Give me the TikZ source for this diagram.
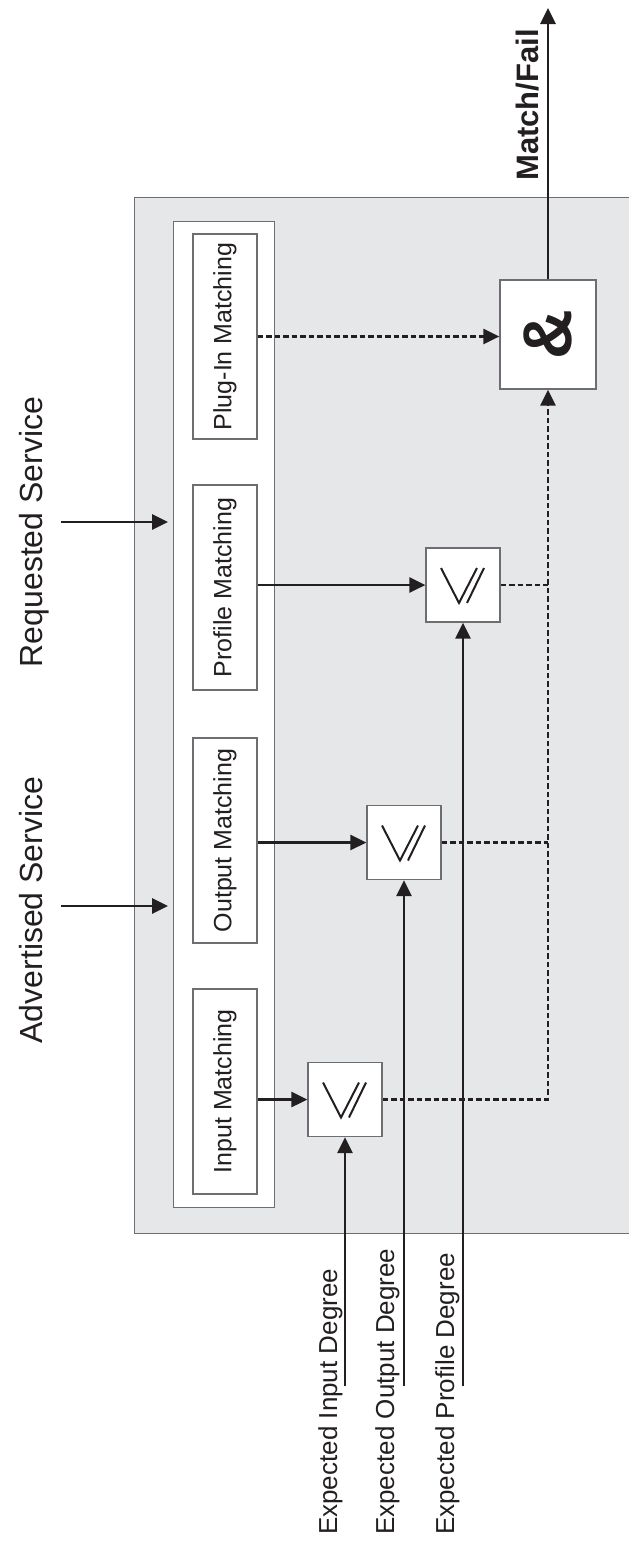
\documentclass[tikz,border=0pt]{standalone}
\usepackage{fontspec}
\setmainfont{Liberation Sans}
\usetikzlibrary{arrows.meta}
\definecolor{bg}{HTML}{E6E7E8}
\definecolor{frame}{HTML}{6D6E71}
\definecolor{ink}{HTML}{231F20}
\begin{document}
\begin{tikzpicture}[x=1pt,y=-1pt,
  box/.style={draw=frame,line width=1.2pt,fill=white,inner sep=0pt,text=ink},
  mbox/.style={box,rotate=90,minimum width=205pt,minimum height=64pt,font=\fontsize{25}{30}\selectfont},
  gbox/.style={box,minimum width=74pt,minimum height=74pt},
  conn/.style={draw=ink,line width=2.8pt},
  tip/.style={-{Triangle[length=16pt,width=15pt]}},
  arr/.style={conn,tip},
  dsh/.style={conn,dash pattern=on 5.5pt off 3pt},
  svc/.style={rotate=90,inner sep=0pt,text=ink,anchor=base,font=\fontsize{32}{38}\selectfont},
  exl/.style={rotate=90,inner sep=0pt,text=ink,anchor=base west,font=\fontsize{26}{31}\selectfont},
  geqline/.style={draw=ink,line width=2pt}
]
\useasboundingbox (0,0) rectangle (629,1542);

% outer grey panel and white column
\node[draw=frame,line width=1.2pt,fill=bg,anchor=north west,inner sep=0pt,minimum width=510pt,minimum height=1036pt] (outer) at (134,197) {};
\node[box,anchor=north west,minimum width=101pt,minimum height=986pt] (col) at (173,221) {};

% matching boxes
\node[mbox] (pim) at (225,336.5) {Plug-In Matching};
\node[mbox] (pm)  at (225,587.5) {Profile Matching};
\node[mbox] (om)  at (225,840.5) {Output Matching};
\node[mbox] (im)  at (225,1091.5) {Input Matching};

% comparison boxes
\node[gbox] (g1) at (345,1099.5) {};
\node[gbox] (g2) at (404,842.5) {};
\node[gbox] (g3) at (463,585) {};
\foreach \n in {g1,g2,g3}{
  \begin{scope}[shift={(\n.center)}]
    \draw[geqline] (-22,-17) -- (-4,18) -- (14,-17);
    \draw[geqline] (4,18) -- (21,-17);
  \end{scope}
}

% AND box
\node[box,minimum width=96pt,minimum height=109pt] (amp) at (548,334.5)
  {\rotatebox{90}{\fontsize{69}{69}\selectfont\bfseries\&}};

% service inputs
\node[svc] (req) at (42,532) {Requested Service};
\node[svc] (adv) at (42,910) {Advertised Service};
\coordinate (rs) at (61,522);
\coordinate (as) at (61,906);
\draw[arr,shorten >=5pt] (rs) -- (rs -| col.west);
\draw[arr,shorten >=5pt] (as) -- (as -| col.west);

% matching -> comparison
\draw[arr] (g1.west -| im.south) -- (g1.west);
\draw[arr] (g2.west -| om.south) -- (g2.west);
\draw[arr] (g3.west -| pm.south) -- (g3.west);
\draw[dsh,tip] (pim.south) -- (pim.south -| amp.west);

% expected degrees
\node[exl] (tei) at (337,1535) {Expected Input Degree};
\node[exl] (teo) at (394,1535) {Expected Output Degree};
\node[exl] (tep) at (454,1535) {Expected Profile Degree};
\coordinate (ei) at (345,1386);
\coordinate (eo) at (404,1386);
\coordinate (ep) at (463,1386);
\draw[arr] (ei) -- (g1.south);
\draw[arr] (eo) -- (g2.south);
\draw[arr] (ep) -- (g3.south);

% dashed results to AND
\draw[dsh,tip] (g1.east) -| (amp.south);
\draw[dsh] (g2.east) -- (g2.east -| amp.south);
\draw[dsh] (g3.east) -- (g3.east -| amp.south);

% output
\coordinate (mf) at (548,8);
\draw[arr] (amp.north) -- (mf);
\node[rotate=90,inner sep=0pt,anchor=base,text=ink,font=\fontsize{31}{37}\selectfont\bfseries] (mft) at (538,105) {Match/Fail};
\end{tikzpicture}
\end{document}
